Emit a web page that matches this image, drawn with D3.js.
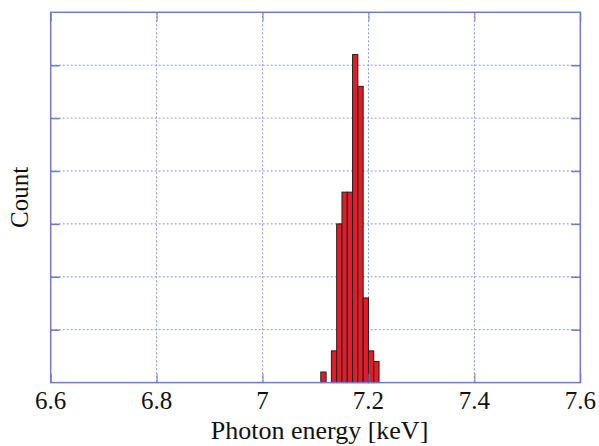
<!DOCTYPE html>
<html>
<head>
<meta charset="utf-8">
<script src="https://cdn.jsdelivr.net/npm/d3@7"></script>
<style>
  body { margin: 0; background: #fff; }
  svg { display: block; }
  .lbl { font-family: "Liberation Serif", "Times New Roman", serif; fill: #111; }
</style>
</head>
<body>
<div class="chart"></div>
<script>
var width = 599;
var height = 446;

// plot box
var plotLeft = 50.7, plotRight = 580.3, plotTop = 12.3, plotBottom = 382.6;

// histogram bins (keV, bin width 0.01) and counts
var binStarts = [7.11, 7.12, 7.13, 7.14, 7.15, 7.16, 7.17, 7.18, 7.19, 7.20, 7.21];
var counts    = [1,    0,    3,    15,   18,   18,   31,   28,   8,    3,    2];
var binWidth = 0.01;

var xTicks = [6.6, 6.8, 7, 7.2, 7.4, 7.6];
var xTickLabels = ['6.6', '6.8', '7', '7.2', '7.4', '7.6'];
var yTicks = [5, 10, 15, 20, 25, 30];

var frameColor = '#6e7cc6';
var gridColor = '#8d98d8';

var x = d3.scaleLinear().domain([6.6, 7.6]).range([plotLeft, plotRight]);
var y = d3.scaleLinear().domain([0, 35]).range([plotBottom, plotTop]);

var svg = d3.select('.chart').append('svg')
    .attr('width', width)
    .attr('height', height);

// dotted grid
svg.append('g').selectAll('line')
    .data(xTicks.slice(1, -1))
    .enter().append('line')
    .attr('x1', function (d) { return x(d); })
    .attr('x2', function (d) { return x(d); })
    .attr('y1', plotTop)
    .attr('y2', plotBottom)
    .attr('stroke', gridColor)
    .attr('stroke-width', 1)
    .attr('stroke-dasharray', '2,2');

svg.append('g').selectAll('line')
    .data(yTicks)
    .enter().append('line')
    .attr('x1', plotLeft)
    .attr('x2', plotRight)
    .attr('y1', function (d) { return y(d); })
    .attr('y2', function (d) { return y(d); })
    .attr('stroke', gridColor)
    .attr('stroke-width', 1)
    .attr('stroke-dasharray', '2,2');

// bars
svg.append('g').selectAll('rect')
    .data(binStarts.map(function (b, i) { return {x0: b, n: counts[i]}; })
        .filter(function (d) { return d.n > 0; }))
    .enter().append('rect')
    .attr('x', function (d) { return x(d.x0); })
    .attr('width', function (d) { return x(d.x0 + binWidth) - x(d.x0); })
    .attr('y', function (d) { return y(d.n); })
    .attr('height', function (d) { return y(0) - y(d.n); })
    .attr('fill', '#de1f27')
    .attr('stroke', '#2a1a1a')
    .attr('stroke-width', 1);

// axes: ticks pointing inward on all four sides, no d3 labels
var tickLen = 9;
function styleTicks(g, w) {
    g.select('.domain').remove();
    g.selectAll('.tick text').remove();
    g.selectAll('.tick line').attr('stroke', frameColor).attr('stroke-width', w);
}
svg.append('g')
    .attr('transform', 'translate(0,' + plotBottom + ')')
    .call(d3.axisBottom(x).tickValues(xTicks).tickSizeInner(-tickLen).tickSizeOuter(0))
    .call(styleTicks, 1);
svg.append('g')
    .attr('transform', 'translate(0,' + plotTop + ')')
    .call(d3.axisTop(x).tickValues(xTicks).tickSizeInner(-tickLen).tickSizeOuter(0))
    .call(styleTicks, 1);
svg.append('g')
    .attr('transform', 'translate(' + plotLeft + ',0)')
    .call(d3.axisLeft(y).tickValues(yTicks).tickSizeInner(-tickLen).tickSizeOuter(0))
    .call(styleTicks, 1.5);
svg.append('g')
    .attr('transform', 'translate(' + plotRight + ',0)')
    .call(d3.axisRight(y).tickValues(yTicks).tickSizeInner(-tickLen).tickSizeOuter(0))
    .call(styleTicks, 1.5);

// x tick labels
svg.append('g').selectAll('text')
    .data(xTicks)
    .enter().append('text')
    .attr('class', 'lbl')
    .attr('x', function (d) { return x(d); })
    .attr('y', 409)
    .attr('text-anchor', 'middle')
    .style('font-size', '25px')
    .text(function (d, i) { return xTickLabels[i]; });

// frame
svg.append('rect')
    .attr('x', plotLeft)
    .attr('y', plotTop)
    .attr('width', plotRight - plotLeft)
    .attr('height', plotBottom - plotTop)
    .attr('fill', 'none')
    .attr('stroke', frameColor)
    .attr('stroke-width', 1.5);

// axis titles
svg.append('text')
    .attr('class', 'lbl')
    .attr('x', 319.5)
    .attr('y', 439)
    .attr('text-anchor', 'middle')
    .style('font-size', '26px')
    .text('Photon energy [keV]');

svg.append('text')
    .attr('class', 'lbl')
    .attr('transform', 'translate(28,' + (plotTop + plotBottom) / 2 + ') rotate(-90)')
    .attr('text-anchor', 'middle')
    .style('font-size', '25px')
    .text('Count');
</script>
</body>
</html>
